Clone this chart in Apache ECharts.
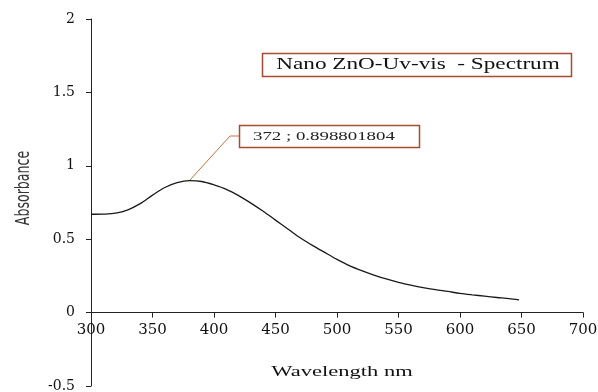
<!DOCTYPE html>
<html>
<head>
<meta charset="utf-8">
<script src="https://cdn.jsdelivr.net/npm/echarts@6/dist/echarts.min.js"></script>
<style>
html,body{margin:0;padding:0;background:#fff;}
#c{width:598px;height:392px;}
</style>
</head>
<body>
<div id="c"></div>
<script>
const wavelengths = [300,310,320,330,340,350,360,370,380,390,400,410,420,430,440,450,460,470,480,490,500,510,520,530,540,550,560,570,580,590,600,610,620,630,640,648];
const absorbance = [0.670,0.671,0.677,0.700,0.742,0.800,0.852,0.885,0.899,0.893,0.870,0.840,0.797,0.746,0.690,0.630,0.570,0.510,0.458,0.410,0.363,0.320,0.286,0.256,0.229,0.206,0.187,0.170,0.156,0.144,0.131,0.121,0.112,0.103,0.095,0.086];
const chartTitle = 'Nano ZnO-Uv-vis  - Spectrum';
const peakLabel = '372 ; 0.898801804';
const xName = 'Wavelength nm';
const yName = 'Absorbance';

const serif = '"Liberation Serif", "DejaVu Serif", serif';
const tickFont = '"DejaVu Serif", "Liberation Serif", serif';
const chart = echarts.init(document.getElementById('c'));
const seriesData = wavelengths.map((w, i) => [w, absorbance[i]]);
const gridBottom = 6;
chart.setOption({
  animation: false,
  backgroundColor: '#fff',
  grid: {left: 91, right: 15, top: 19, bottom: gridBottom, containLabel: false, outerBoundsMode: 'none'},
  xAxis: {
    type: 'value', min: 300, max: 700, interval: 50,
    axisLine: {onZero: false, lineStyle: {color: '#222', width: 1}},
    axisTick: {show: true, inside: false, length: 5, lineStyle: {color: '#222'}},
    axisLabel: {color: '#111', fontFamily: tickFont, fontSize: 15, margin: 10},
    splitLine: {show: false}
  },
  yAxis: {
    type: 'value', min: -0.5, max: 2, interval: 0.5,
    axisLine: {show: true, onZero: false, lineStyle: {color: '#222', width: 1}},
    axisTick: {show: true, length: 5, lineStyle: {color: '#222'}},
    axisLabel: {color: '#111', fontFamily: tickFont, fontSize: 14, margin: 16},
    splitLine: {show: false}
  },
  series: [{
    type: 'line', data: seriesData, smooth: 0.3, showSymbol: false,
    lineStyle: {color: '#1a1a1a', width: 1.3}
  }]
});

// move the x axis up to the y = 0 line (labels and ticks follow)
const zeroY = chart.convertToPixel({gridIndex: 0}, [300, 0])[1];
const bottomY = chart.getHeight() - gridBottom;
chart.setOption({xAxis: {offset: -(bottomY - zeroY)}});

const peakIdx = absorbance.indexOf(Math.max(...absorbance));
const p = chart.convertToPixel({gridIndex: 0}, [wavelengths[peakIdx], absorbance[peakIdx]]);
chart.setOption({
  graphic: [
    {type: 'text', x: 342, y: 372, scaleX: 1.5, style: {text: xName, font: '15px ' + serif, fill: '#111', align: 'center', verticalAlign: 'middle'}},
    {type: 'text', x: 24, y: 188, rotation: Math.PI / 2, scaleY: 1.35, style: {text: yName, font: '14px "Liberation Sans Narrow", "DejaVu Sans Condensed", sans-serif', fill: '#333', align: 'center', verticalAlign: 'middle'}},
    {type: 'rect', shape: {x: 262.5, y: 53.5, width: 309, height: 23}, style: {fill: '#fff', stroke: '#a84a34', lineWidth: 1.5}},
    {type: 'text', x: 418, y: 65, scaleX: 1.45, style: {text: chartTitle, font: '16px ' + serif, fill: '#111', align: 'center', verticalAlign: 'middle'}},
    {type: 'polyline', shape: {points: [[p[0], p[1]], [230, 136], [239, 136]]}, style: {stroke: '#c8703a', lineWidth: 1, fill: null}},
    {type: 'rect', shape: {x: 239.5, y: 125.5, width: 180, height: 22}, style: {fill: '#fff', stroke: '#a84a34', lineWidth: 1.5}},
    {type: 'text', x: 253, y: 137, scaleX: 1.45, style: {text: peakLabel, font: '13px ' + serif, fill: '#222', align: 'left', verticalAlign: 'middle'}}
  ]
});
</script>
</body>
</html>
